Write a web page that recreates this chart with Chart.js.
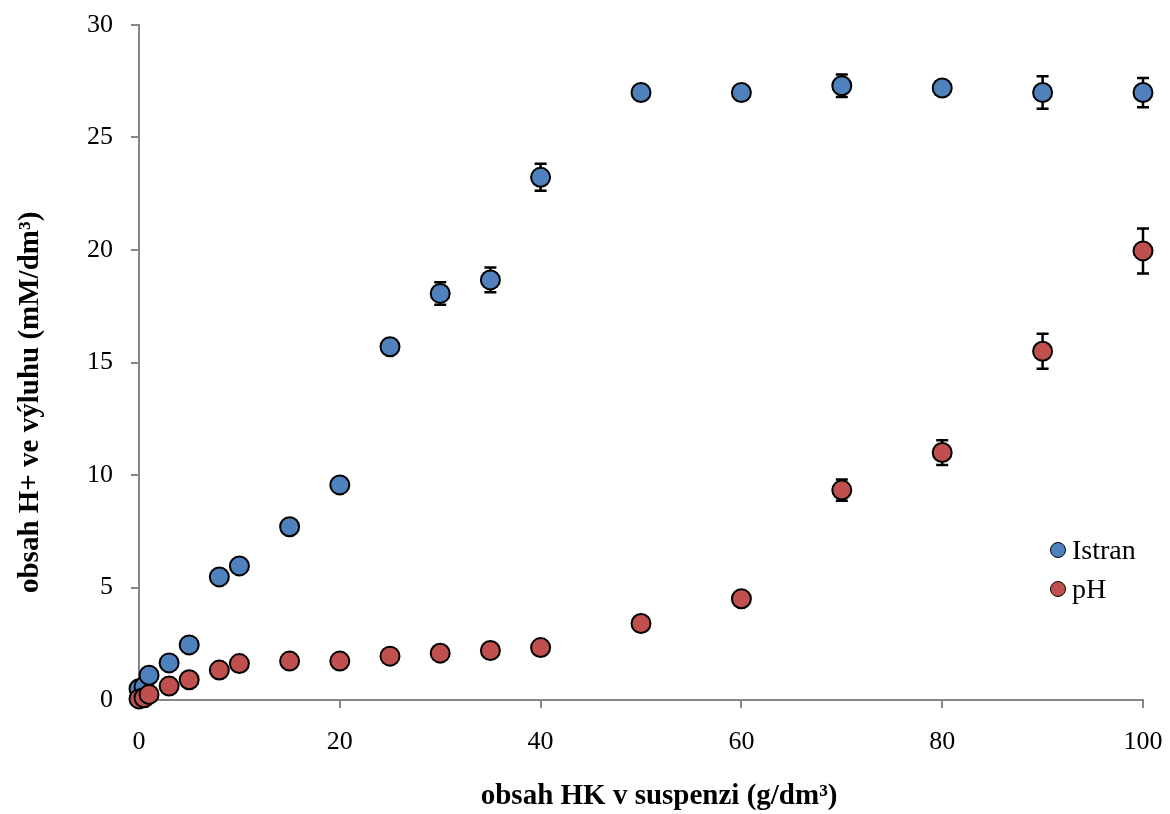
<!DOCTYPE html>
<html lang="cs">
<head>
<meta charset="UTF-8">
<title>obsah H+ ve výluhu</title>
<script src="https://cdn.jsdelivr.net/npm/chart.js"></script>
<style>
    html, body { margin: 0; padding: 0; background: #fff; }
    #wrap { position: relative; width: 1170px; height: 814px; }
    #legend { position: absolute; left: 1050px; top: 530px; font-family: "Liberation Serif", serif; font-size: 28px; color: #000; line-height: 38px; }
    #legend div { height: 39px; display: flex; align-items: center; }
    #legend span.dot { display: inline-block; width: 16px; height: 16px; border-radius: 50%; border: 1.5px solid #000; margin-right: 6px; box-sizing: border-box; }
</style>
</head>
<body>
<div id="wrap">
    <canvas id="chart" width="1170" height="814"></canvas>
    <div id="legend">
        <div><span class="dot" style="background:#4F81BD"></span>Istran</div>
        <div><span class="dot" style="background:#C0504D"></span>pH</div>
    </div>
</div>
<script>
    // obsah HK v suspenzi (g/dm3)
    const xValues = [0, 0.5, 1, 3, 5, 8, 10, 15, 20, 25, 30, 35, 40, 50, 60, 70, 80, 90, 100];
    // obsah H+ ve vyluhu (mM/dm3)
    const istranValues = [0.5, 0.6, 1.1, 1.65, 2.45, 5.47, 5.96, 7.7, 9.56, 15.7, 18.07, 18.67, 23.23, 27.0, 27.0, 27.3, 27.2, 27.0, 27.0];
    const istranErrors = [0, 0, 0, 0, 0, 0, 0, 0, 0, 0, 0.5, 0.55, 0.6, 0, 0, 0.5, 0, 0.72, 0.65];
    const phValues = [0.05, 0.1, 0.25, 0.62, 0.9, 1.33, 1.62, 1.73, 1.73, 1.95, 2.08, 2.2, 2.33, 3.4, 4.5, 9.33, 11.0, 15.5, 19.96];
    const phErrors = [0, 0, 0, 0, 0, 0, 0, 0, 0, 0, 0, 0, 0, 0, 0, 0.47, 0.55, 0.78, 1.0];
    const yTicks = [0, 5, 10, 15, 20, 25, 30];

    const axisColor = '#868686';
    const serif = '"Liberation Serif", "Times New Roman", serif';
    const nbsp = n => '\u00a0'.repeat(n);

    function toPoints(ys, errs) {
        return xValues.map((x, i) => ({ x: x, y: ys[i], err: errs[i] }));
    }

    // error bars, drawn under the markers
    const errorBars = {
        id: 'errorBars',
        beforeDatasetsDraw(chart) {
            const ctx = chart.ctx;
            const xs = chart.scales.x, ys = chart.scales.y;
            ctx.save();
            ctx.strokeStyle = '#000';
            ctx.lineWidth = 2.5;
            chart.data.datasets.forEach(ds => {
                ds.data.forEach(p => {
                    if (!p.err) return;
                    const px = xs.getPixelForValue(p.x);
                    const top = ys.getPixelForValue(p.y + p.err);
                    const bot = ys.getPixelForValue(p.y - p.err);
                    ctx.beginPath();
                    ctx.moveTo(px, top); ctx.lineTo(px, bot);
                    ctx.moveTo(px - 6, top); ctx.lineTo(px + 6, top);
                    ctx.moveTo(px - 6, bot); ctx.lineTo(px + 6, bot);
                    ctx.stroke();
                });
            });
            ctx.restore();
        }
    };

    new Chart(document.getElementById('chart'), {
        type: 'scatter',
        data: {
            datasets: [{
                label: 'Istran',
                data: toPoints(istranValues, istranErrors),
                backgroundColor: '#4F81BD',
                borderColor: '#000',
                borderWidth: 2,
                pointRadius: 9.5,
                clip: false,
                order: 1
            }, {
                label: 'pH',
                data: toPoints(phValues, phErrors),
                backgroundColor: '#C0504D',
                borderColor: '#000',
                borderWidth: 2,
                pointRadius: 9.5,
                clip: false,
                order: 0
            }]
        },
        options: {
            responsive: false,
            animation: false,
            layout: { padding: { left: 0, right: 27, top: 25, bottom: 0 } },
            plugins: { legend: { display: false }, tooltip: { enabled: false } },
            scales: {
                x: {
                    type: 'linear',
                    min: 0,
                    max: 100,
                    afterFit(scale) { scale.height = 114; scale.paddingLeft = 0; scale.paddingRight = 0; },
                    border: { color: axisColor, width: 2 },
                    grid: { drawOnChartArea: false, color: axisColor, lineWidth: 2, tickLength: 8 },
                    ticks: { stepSize: 20, color: '#000', padding: 19, font: { family: serif, size: 26 } },
                    title: {
                        display: true,
                        // leading spaces nudge the title right like in the original
                        text: nbsp(5) + 'obsah HK v suspenzi (g/dm³)',
                        color: '#000',
                        padding: { top: 0, bottom: 0 },
                        font: { family: serif, size: 29, weight: 'bold' }
                    }
                },
                y: {
                    type: 'linear',
                    min: 0,
                    max: 30,
                    afterFit(scale) { scale.width = 139; scale.paddingTop = 0; scale.paddingBottom = 0; },
                    afterBuildTicks(scale) { scale.ticks = yTicks.map(v => ({ value: v })); },
                    border: { color: axisColor, width: 2 },
                    grid: { drawOnChartArea: false, color: axisColor, lineWidth: 2, tickLength: 8 },
                    ticks: { color: '#000', padding: 18, font: { family: serif, size: 26 } },
                    title: {
                        display: true,
                        // trailing spaces push the title down a bit
                        text: 'obsah H+ ve výluhu (mM/dm³)' + nbsp(11),
                        color: '#000',
                        padding: { top: 13, bottom: 0 },
                        font: { family: serif, size: 29, weight: 'bold' }
                    }
                }
            }
        },
        plugins: [errorBars]
    });
</script>
</body>
</html>
